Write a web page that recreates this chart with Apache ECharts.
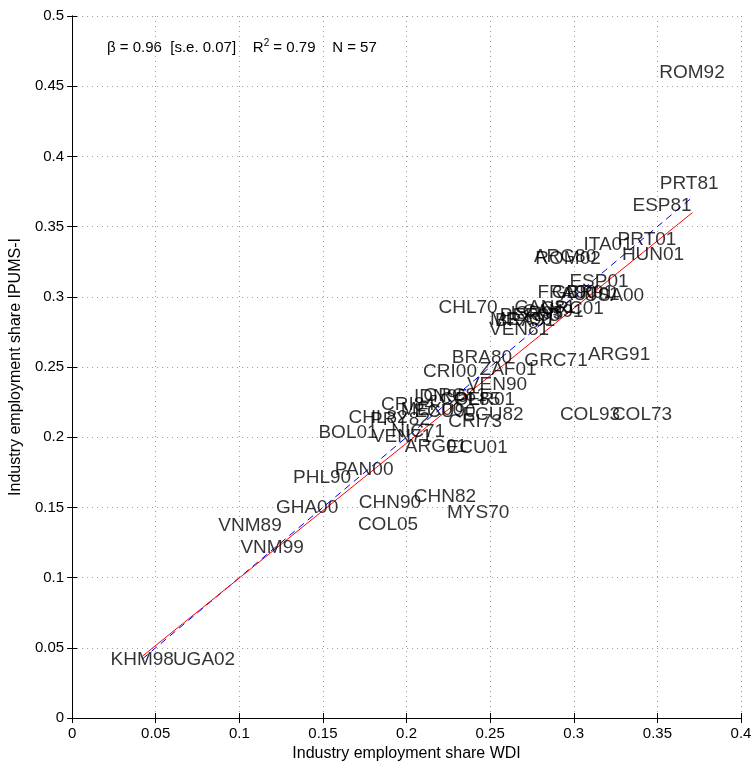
<!DOCTYPE html>
<html>
<head>
<meta charset="utf-8">
<script src="https://cdn.jsdelivr.net/npm/echarts@6/dist/echarts.min.js"></script>
<style>html,body{margin:0;padding:0;background:#fff}#c{width:756px;height:769px}</style>
</head>
<body>
<div id="c"></div>
<script>
const countries = ["ROM92","PRT81","ESP81","PRT01","ITA01","HUN01","ARG80","ROM02","ESP01","FRA90",
"USA00","GBR91","AUT01","CAN81","CAN91","GRC01","CHL70","MEX90","VEN81","PER93",
"ISR95","BRA91","BRA80","GRC71","ARG91","CRI00","ZAF01","VEN90","IDN95","GRC81",
"COL85","PER01","CRI84","CHL82","ECU82","CRI73","BOL01","VEN71","PRY82","NIC71",
"MEX00","ECU90","ARG01","ECU01","PAN00","PHL90","GHA00","CHN90","CHN82","MYS70",
"COL05","VNM89","VNM99","KHM98","UGA02","COL93","COL73"];
const wdiShare = [0.3707,0.3690,0.3528,0.3438,0.3205,0.3474,0.2948,0.2966,0.3151,0.2960,
0.3241,0.3055,0.3097,0.2828,0.2876,0.2990,0.2368,0.2685,0.2673,0.2738,
0.2780,0.2709,0.2451,0.2894,0.3271,0.2260,0.2607,0.2541,0.2206,0.2290,
0.2380,0.2469,0.2009,0.1830,0.2517,0.2410,0.1650,0.1973,0.1961,0.2069,
0.2152,0.2230,0.2176,0.2422,0.1746,0.1495,0.1405,0.1901,0.2230,0.2428,
0.1889,0.1064,0.1196,0.0419,0.0789,0.3097,0.3408];
const ipumsShare = [0.4594,0.3803,0.3647,0.3405,0.3369,0.3298,0.3283,0.3269,0.3105,0.3027,
0.3006,0.3027,0.3013,0.2920,0.2892,0.2913,0.2920,0.2835,0.2764,0.2863,
0.2877,0.2828,0.2564,0.2543,0.2585,0.2464,0.2479,0.2372,0.2286,0.2293,
0.2265,0.2265,0.2229,0.2137,0.2158,0.2108,0.2030,0.2001,0.2123,0.2037,
0.2194,0.2179,0.1930,0.1923,0.1766,0.1709,0.1496,0.1531,0.1574,0.1460,
0.1375,0.1368,0.1211,0.0413,0.0413,0.2158,0.2158];
const fitX = [0.042, 0.371];
const fitY = [0.044, 0.360];
const diagX = [0.042, 0.370];
const diagY = [0.042, 0.370];
const xTicks = [0,0.05,0.1,0.15,0.2,0.25,0.3,0.35,0.4];
const yTicks = [0,0.05,0.1,0.15,0.2,0.25,0.3,0.35,0.4,0.45,0.5];

const fmt = v => String(Math.round(v*100)/100);
const font = 'Liberation Sans, Arial, Helvetica, sans-serif';
const chart = echarts.init(document.getElementById('c'));
const gridLine = {show:true, lineStyle:{color:'#9a9a9a', type:[1,4], width:1}};
const axBase = {
  axisLine:{show:true, lineStyle:{color:'#000', width:1}},
  axisTick:{show:true, inside:true, length:5, lineStyle:{color:'#000'}},
};
chart.setOption({
  animation:false,
  backgroundColor:'#fff',
  grid:{left:72, right:15, top:16, bottom:51, show:false},
  xAxis:[
    Object.assign({type:'value', min:0, max:0.4, interval:0.05, position:'bottom',
      name:'Industry employment share WDI', nameLocation:'middle', nameGap:26,
      nameTextStyle:{fontFamily:font, fontSize:16, color:'#000'},
      axisLabel:{formatter:fmt, fontFamily:font, fontSize:15, color:'#000', margin:8},
      splitLine:gridLine}, axBase),
    Object.assign({type:'value', min:0, max:0.4, interval:0.05, position:'top',
      axisLabel:{show:false}, splitLine:{show:false}}, axBase)
  ],
  yAxis:[
    Object.assign({type:'value', min:0, max:0.5, interval:0.05, position:'left',
      name:'Industry employment share IPUMS-I', nameLocation:'middle', nameGap:48,
      nameTextStyle:{fontFamily:font, fontSize:16, color:'#000'},
      axisLabel:{formatter:fmt, fontFamily:font, fontSize:15, color:'#000', margin:8},
      splitLine:gridLine}, axBase),
    Object.assign({type:'value', min:0, max:0.5, interval:0.05, position:'right',
      axisLabel:{show:false}, splitLine:{show:false}}, axBase)
  ],
  graphic:[{
    type:'text', left:107, top:38,
    style:{
      text:'β = 0.96  [s.e. 0.07]    R{s|2} = 0.79    N = 57',
      font:'15px ' + font, fill:'#000',
      rich:{s:{fontSize:10, verticalAlign:'top', padding:[0,0,9,0], fontFamily:font}}
    }
  }],
  series:[
    {type:'line', data:diagX.map((x,i)=>[x,diagY[i]]), symbol:'none',
      lineStyle:{color:'#0000ff', width:1, type:[7,5]}, z:2},
    {type:'line', data:fitX.map((x,i)=>[x,fitY[i]]), symbol:'none',
      lineStyle:{color:'#ff0000', width:1}, z:3},
    {type:'scatter', symbolSize:0.01, z:4,
      data:countries.map((n,i)=>({name:n, value:[wdiShare[i], ipumsShare[i]]})),
      label:{show:true, position:'inside', formatter:p=>p.name,
        fontFamily:font, fontSize:19, color:'#000'},
      labelLayout:{hideOverlap:false}
    }
  ]
});
</script>
</body>
</html>
